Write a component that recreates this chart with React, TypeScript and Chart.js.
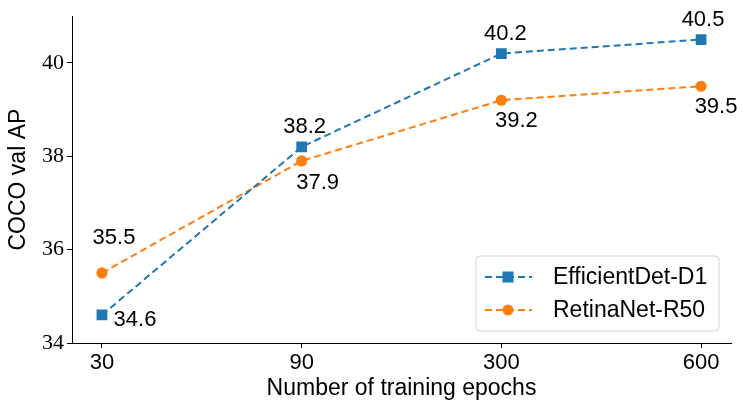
import React, { useEffect, useRef } from "react";
import { Chart, registerables } from "chart.js";

Chart.register(...registerables);

const categories = ["30", "90", "300", "600"];
const efficientDet = [34.6, 38.2, 40.2, 40.5];
const retinaNet = [35.5, 37.9, 39.2, 39.5];
const yTicks = [34, 36, 38, 40];
const seriesNames = ["EfficientDet-D1", "RetinaNet-R50"];

const BLUE = "#1f77b4";
const ORANGE = "#ff7f0e";

// label offsets (style, px) relative to each point
const labelOffsets = [
  [[33, 5], [3, -20], [4, -20], [2, -20]],
  [[12, -35], [16, 22], [15, 21], [15, 21]],
];

const SANS = "'Liberation Sans', Arial, sans-serif";
const SERIF = "'Liberation Serif', 'DejaVu Serif', serif";

const dataLabelPlugin = {
  id: "dataLabels",
  afterDatasetsDraw(chart: any) {
    const ctx = chart.ctx;
    ctx.save();
    ctx.font = `22px ${SANS}`;
    ctx.fillStyle = "#000";
    ctx.textAlign = "center";
    ctx.textBaseline = "middle";
    chart.data.datasets.forEach((ds: any, di: number) => {
      const meta = chart.getDatasetMeta(di);
      meta.data.forEach((pt: any, i: number) => {
        const [dx, dy] = labelOffsets[di][i];
        ctx.fillText(ds.data[i].y.toFixed(1), pt.x + dx, pt.y + dy);
      });
    });
    ctx.restore();
  },
};

const legendPlugin = {
  id: "customLegend",
  afterDraw(chart: any) {
    const ctx = chart.ctx;
    const ca = chart.chartArea;
    const w = 243, h = 75;
    const x = ca.right - 12 - w;
    const y = ca.bottom - 12 - h;
    ctx.save();
    ctx.beginPath();
    const r = 4;
    ctx.moveTo(x + r, y);
    ctx.arcTo(x + w, y, x + w, y + h, r);
    ctx.arcTo(x + w, y + h, x, y + h, r);
    ctx.arcTo(x, y + h, x, y, r);
    ctx.arcTo(x, y, x + w, y, r);
    ctx.closePath();
    ctx.fillStyle = "rgba(255,255,255,0.85)";
    ctx.fill();
    ctx.strokeStyle = "#d5d5d5";
    ctx.lineWidth = 1;
    ctx.stroke();
    const colors = [BLUE, ORANGE];
    seriesNames.forEach((name, i) => {
      const cy = y + 21 + i * 33;
      ctx.strokeStyle = colors[i];
      ctx.lineWidth = 2;
      ctx.setLineDash([7, 4]);
      ctx.beginPath();
      ctx.moveTo(x + 9, cy);
      ctx.lineTo(x + 56, cy);
      ctx.stroke();
      ctx.setLineDash([]);
      ctx.fillStyle = colors[i];
      if (i === 0) {
        ctx.fillRect(x + 32 - 5.5, cy - 5.5, 11, 11);
      } else {
        ctx.beginPath();
        ctx.arc(x + 32, cy, 5.5, 0, Math.PI * 2);
        ctx.fill();
      }
      ctx.fillStyle = "#000";
      ctx.font = `23px ${SANS}`;
      ctx.textAlign = "left";
      ctx.textBaseline = "middle";
      ctx.fillText(name, x + 77, cy + 1);
    });
    ctx.restore();
  },
};

export default function App() {
  const ref = useRef<HTMLCanvasElement>(null);
  useEffect(() => {
    document.body.style.margin = "0";
    const canvas = ref.current!;
    const chart = new Chart(canvas, {
      type: "line",
      data: {
        datasets: [
          {
            label: seriesNames[0],
            data: efficientDet.map((v, i) => ({ x: i, y: v })),
            borderColor: BLUE,
            backgroundColor: BLUE,
            borderWidth: 2,
            borderDash: [7, 4],
            pointStyle: "rect",
            pointRadius: 7.6,
            pointBorderWidth: 0,
            tension: 0,
          },
          {
            label: seriesNames[1],
            data: retinaNet.map((v, i) => ({ x: i, y: v })),
            borderColor: ORANGE,
            backgroundColor: ORANGE,
            borderWidth: 2,
            borderDash: [7, 4],
            pointStyle: "circle",
            pointRadius: 5.6,
            pointBorderWidth: 0,
            tension: 0,
          },
        ],
      },
      options: {
        responsive: false,
        animation: false,
        devicePixelRatio: 1,
        layout: { padding: { top: 15, right: 17, left: 0, bottom: 0 } },
        plugins: { legend: { display: false }, tooltip: { enabled: false } },
        scales: {
          x: {
            type: "linear",
            min: -0.15,
            max: categories.length - 1 + 0.15,
            afterFit(scale: any) {
              scale.height = 71;
            },
            afterBuildTicks(scale: any) {
              scale.ticks = categories.map((_, i) => ({ value: i }));
            },
            ticks: {
              callback: (v: any) => categories[v as number] ?? "",
              font: { family: SANS, size: 22 },
              color: "#000",
              padding: 2,
              autoSkip: false,
              maxRotation: 0,
            },
            grid: {
              drawOnChartArea: false,
              drawTicks: true,
              tickLength: 5,
              color: "#000",
              tickWidth: 1,
            },
            border: { display: true, color: "#000", width: 1 },
            title: {
              display: true,
              text: "Number of training epochs",
              font: { family: SANS, size: 23 },
              color: "#000",
              padding: { top: 0, bottom: 12 },
            },
          },
          y: {
            type: "linear",
            min: 34,
            max: 41,
            afterFit(scale: any) {
              scale.width = 72;
            },
            afterBuildTicks(scale: any) {
              scale.ticks = yTicks.map((v) => ({ value: v }));
            },
            ticks: {
              font: { family: SERIF, size: 22 },
              color: "#000",
              padding: 3,
            },
            grid: {
              drawOnChartArea: false,
              drawTicks: true,
              tickLength: 5,
              color: "#000",
              tickWidth: 1,
            },
            border: { display: true, color: "#000", width: 1 },
            title: {
              display: true,
              text: "COCO val AP",
              font: { family: SANS, size: 23 },
              color: "#000",
              padding: { top: 5, bottom: 0 },
            },
          },
        },
      },
      plugins: [dataLabelPlugin, legendPlugin],
    } as any);
    return () => chart.destroy();
  }, []);
  return <canvas ref={ref} width={748} height={414} style={{ display: "block" }} />;
}
